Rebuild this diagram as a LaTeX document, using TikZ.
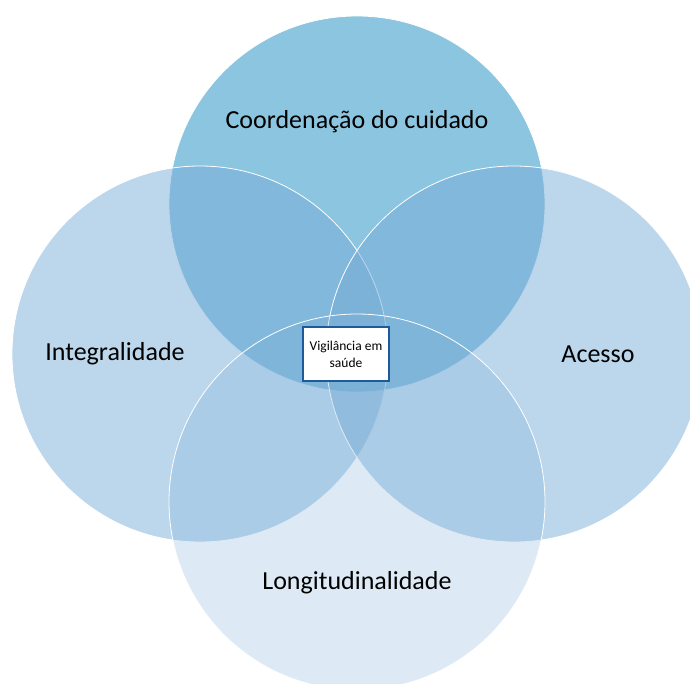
\documentclass[tikz,border=0pt]{standalone}
\usepackage{fontspec}
\setmainfont{Carlito}
\usetikzlibrary{positioning}
\definecolor{topblue}{RGB}{140,197,224}
\definecolor{venblue}{RGB}{121,173,215}
\definecolor{boxblue}{RGB}{30,90,155}

\begin{document}
\begin{tikzpicture}[x=1pt, y=-1pt,
  ring/.style={draw=white, line width=0.8pt},
  label/.style={font=\fontsize{26}{31}\selectfont, text=black},
  centrebox/.style={draw=boxblue, line width=1.6pt, fill=white, align=center,
    font=\fontsize{13.5}{17}\selectfont, minimum width=86pt, minimum height=54pt,
    inner sep=2pt}]
  \def\R{188};
  \def\Xm{357};
  \def\Xa{200};
  \def\Xb{514};
  \def\Ytop{204};
  \def\Ymid{354};
  \def\Ybot{502};
  \useasboundingbox (0,0) rectangle (690,684);
  \clip (0,0) rectangle (690,684);

        % circles
        \draw[ring, fill=topblue] (\Xm, \Ytop) circle (\R);
        \draw[ring, fill=venblue, fill opacity=0.5] (\Xa, \Ymid) circle (\R);
        \draw[ring, fill=venblue, fill opacity=0.5] (\Xb, \Ymid) circle (\R);
        \draw[ring, fill=venblue, fill opacity=0.25] (\Xm, \Ybot) circle (\R);

        % labels
        \node[label] (coord) at (\Xm, 122) {Coordenação do cuidado};
        \node[label] (integ) at (115, \Ymid) {Integralidade};
        \node[label] (acesso) at (598, \Ymid) {Acesso};
        \node[label] (longi) at (\Xm, 583) {Longitudinalidade};

        \node[centrebox] (vigi) at (346, 354) {Vigilância em\\saúde};
\end{tikzpicture}
\end{document}
